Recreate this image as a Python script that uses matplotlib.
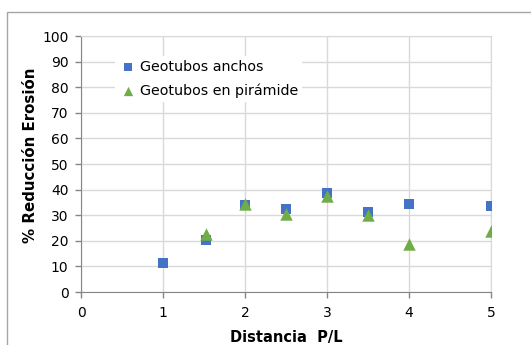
import matplotlib.pyplot as plt
from matplotlib.patches import Rectangle

# ===== Data =====
dist_anchos = [1.0, 1.53, 2.0, 2.5, 3.0, 3.5, 4.0, 5.0]
red_anchos = [11.5, 20.5, 34.0, 32.3, 38.8, 31.3, 34.2, 33.4]

dist_piramide = [1.53, 2.0, 2.5, 3.0, 3.5, 4.0, 5.0]
red_piramide = [22.5, 34.3, 30.6, 37.4, 30.2, 18.8, 24.0]

x_ticks = [0, 1, 2, 3, 4, 5]
y_ticks = list(range(0, 101, 10))

BLUE = "#4472C4"
GREEN = "#70AD47"
GRID = "#d9d9d9"
AXIS = "#868686"

plt.rcParams["font.family"] = ["DejaVu Sans"]

W, H = 531, 345
fig = plt.figure(figsize=(W / 100, H / 100), dpi=100)

# outer chart frame (runs off the right and bottom edges)
fig.patches.append(Rectangle((7 / W, -0.1), 1.2, (H - 12) / H + 0.1,
                             transform=fig.transFigure, fill=False,
                             edgecolor="#a6a6a6", linewidth=1.0))

ax = fig.add_axes([81 / W, (H - 292) / H, (491 - 81) / W, (292 - 36) / H])

ax.scatter(dist_anchos, red_anchos, marker="s", s=46, color=BLUE,
           label="Geotubos anchos", zorder=3, linewidths=0)
ax.scatter(dist_piramide, red_piramide, marker="^", s=80, color=GREEN,
           label="Geotubos en pirámide", zorder=4, linewidths=0)

ax.set_xlim(0, 5)
ax.set_ylim(0, 100)
ax.set_xticks(x_ticks)
ax.set_yticks(y_ticks)
ax.grid(True, color=GRID, linewidth=1.0)
ax.set_axisbelow(True)

for side in ("top", "right"):
    ax.spines[side].set_color(GRID)
for side in ("left", "bottom"):
    ax.spines[side].set_color(AXIS)

ax.tick_params(axis="both", colors=AXIS, labelcolor="black", labelsize=10,
               length=4, width=1)
ax.tick_params(axis="x", pad=6)
ax.tick_params(axis="y", pad=5)

ax.set_xlabel("Distancia  P/L", fontsize=10.5, fontweight="bold")
ax.set_ylabel("% Reducción Erosión", fontsize=10.8, fontweight="bold")
ax.xaxis.set_label_coords(0.5, -0.148)
ax.yaxis.set_label_coords(-0.105, 0.533)

leg = ax.legend(loc="upper left", bbox_to_anchor=(0.066, 0.95), frameon=True,
                fontsize=10.3, handletextpad=0.2, handlelength=1.2,
                labelspacing=0.62, borderpad=0.3, markerscale=0.75)
leg.get_frame().set_facecolor("white")
leg.get_frame().set_edgecolor("none")
leg.get_frame().set_alpha(1.0)
leg.get_frame().set_boxstyle("square", pad=0)

fig.savefig("out.png", dpi=100)
